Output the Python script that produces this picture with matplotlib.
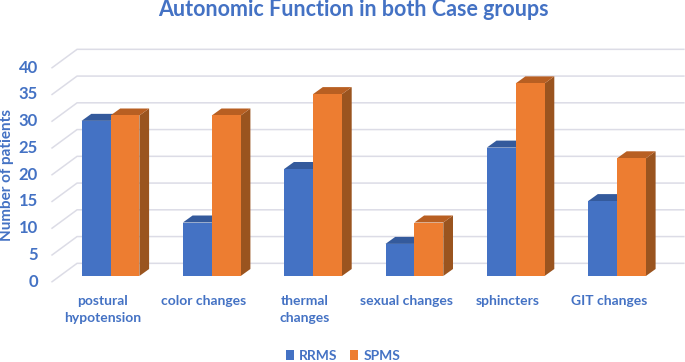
#!/usr/bin/env python3
"""Autonomic function in both case groups, drawn as a fake-3D Excel bar chart."""
import matplotlib
matplotlib.use("Agg")
import matplotlib.pyplot as plt
from matplotlib.patches import Patch, Polygon

plt.rcParams["font.family"] = ["Lato", "DejaVu Sans"]

categories = ["postural\nhypotension", "color changes", "thermal\nchanges",
              "sexual changes", "sphincters", "GIT changes"]
rrms = [29, 10, 20, 6, 24, 14]
spms = [30, 30, 34, 10, 36, 22]
ticks = [0, 5, 10, 15, 20, 25, 30, 35, 40]

BLUE = "#4472c4"
ORANGE = "#ed7d31"
TEXT = "#4472c4"
GRID = "#dcdce6"

# pixel scale of the data axes
PX_X = 101.3
PX_Y = 5.35

fig = plt.figure(figsize=(6.85, 3.62), dpi=100)
ax = fig.add_axes([0, 0, 1, 1])
ax.set_xlim(-110.5 / PX_X, (685 - 110.5) / PX_X)
ax.set_ylim((276 - 362) / PX_Y, 276 / PX_Y)
ax.axis("off")

bar_w = 28.9 / PX_X
dep_x = 9.7 / PX_X
dep_y = 7 / PX_Y


def bar3d(left, value, color, top, side):
    right = left + bar_w
    ax.add_patch(Polygon([(right, 0), (right + dep_x, dep_y), (right + dep_x, value + dep_y), (right, value)],
                         fc=side, ec="none", zorder=3))
    ax.add_patch(Polygon([(left, value), (left + dep_x, value + dep_y), (right + dep_x, value + dep_y), (right, value)],
                         fc=top, ec="none", zorder=3))
    ax.add_patch(Polygon([(left, 0), (left, value), (right, value), (right, 0)],
                         fc=color, ec="none", zorder=3))


# back wall grid and the slanted floor/side lines
for t in ticks:
    ax.plot([-0.577, -0.33, 5.66], [t - 1.07, t + 2.37, t + 2.37], color=GRID, lw=1.1, zorder=1,
            solid_joinstyle="miter")
    ax.text(-0.715, t - 1.07, str(t), ha="right", va="center", color=TEXT, fontsize=12, fontweight="bold")

for i, (a, b) in enumerate(zip(rrms, spms)):
    bar3d(i - bar_w, a, BLUE, "#345a9c", "#2f5597")
    bar3d(i, b, ORANGE, "#b85f22", "#9a541f")
    ax.text(i - 0.08, -3.6, categories[i], ha="center", va="top", color=TEXT, fontsize=10, fontweight="bold",
            linespacing=1.5)

ax.text(2.40, 49.8, "Autonomic Function in both Case groups", ha="center", va="center",
        color=TEXT, fontsize=15.5, fontweight="bold")
ax.text(-1.02, 18.9, "Number of patients", rotation=90, ha="center", va="center",
        color=TEXT, fontsize=11, fontweight="bold")

handles = [Patch(fc=BLUE, label="RRMS"), Patch(fc=ORANGE, label="SPMS")]
ax.legend(handles=handles, loc="center", bbox_to_anchor=(343 / 685, 6.5 / 362), ncol=2, frameon=False,
          handlelength=0.6, handleheight=0.7, handletextpad=0.35, columnspacing=0.9, borderpad=0,
          prop={"size": 10, "weight": "bold"}, labelcolor=TEXT)

fig.savefig("out.png", dpi=100)
